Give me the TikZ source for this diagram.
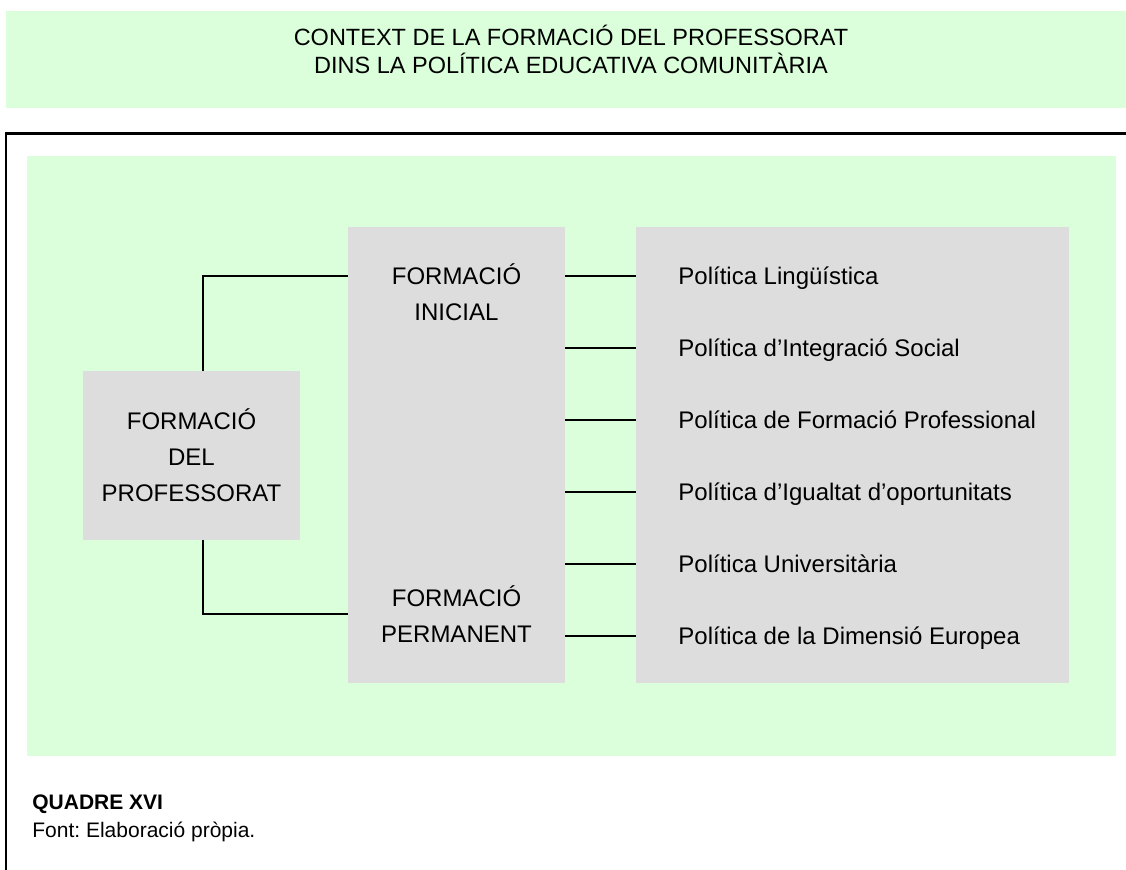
\documentclass[tikz,border=0pt]{standalone}
\usepackage{fontspec}
\setmainfont{Liberation Sans}
\frenchspacing
\definecolor{bandgreen}{RGB}{218,255,218}
\definecolor{boxgray}{RGB}{221,221,221}

\begin{document}
\begin{tikzpicture}[x=0.5pt,y=-0.5pt,
    box/.style={rectangle, fill=boxgray, inner sep=0pt},
    lbl/.style={align=center, inner sep=0pt, font=\fontsize{12}{18}\selectfont},
    pol/.style={anchor=west, inner sep=0pt, text height=8.6pt, text depth=0pt, font=\fontsize{12}{14.4}\selectfont},
    link/.style={line width=0.8pt}]
    \useasboundingbox (0,0) rectangle (1126,869);
    \clip (0,0) rectangle (1126,869);

    % title band
    \fill[bandgreen] (6,11) rectangle (1140,108);
    \node[align=center, inner sep=0pt, anchor=base, font=\fontsize{11.75}{13.75}\selectfont] (title) at (571,73.4)
        {CONTEXT DE LA FORMACIÓ DEL PROFESSORAT\\DINS LA POLÍTICA EDUCATIVA COMUNITÀRIA};

    % frame and panel
    \draw[line width=1.1pt] (6,900) -- (6,133.5) -- (1140,133.5);
    \fill[bandgreen] (27,156) rectangle (1116,756);

    \node[box, lbl, minimum width=108.5pt, minimum height=84.5pt] (prof) at (191.5,455.5) {FORMACIÓ\\DEL\\PROFESSORAT};
    \node[box, minimum width=108.5pt, minimum height=228pt] (mid) at (456.5,455) {};
    \node[box, minimum width=216.5pt, minimum height=228pt] (pols) at (852.5,455) {};

    \node[lbl, anchor=base] (ini) at (456.5,320.6) {FORMACIÓ\\INICIAL};
    \node[lbl, anchor=base] (perm) at (456.5,642.6) {FORMACIÓ\\PERMANENT};

    \foreach \t [count=\i] in {Política Lingüística, Política d’Integració Social, Política de Formació Professional,
        Política d’Igualtat d’oportunitats, Política Universitària, Política de la Dimensió Europea}
        \node[pol] (p\i) at (678,204+72*\i) {\t};

    \foreach \i in {1,...,6}
        \draw[link] (mid.east |- p\i) -- (pols.west |- p\i);
    \draw[link] ([xshift=5.75pt]prof.north) |- (mid.west |- p1);
    \draw[link] ([xshift=5.75pt]prof.south) |- (mid.west |- perm);

    % caption
    \node[anchor=base west, inner sep=0pt, font=\fontsize{10.5}{12}\selectfont\bfseries] (num) at (32,809) {QUADRE XVI};
    \node[anchor=base west, inner sep=0pt, font=\fontsize{10.5}{12}\selectfont] (src) at (32,837) {Font: Elaboració pròpia.};
\end{tikzpicture}
\end{document}
